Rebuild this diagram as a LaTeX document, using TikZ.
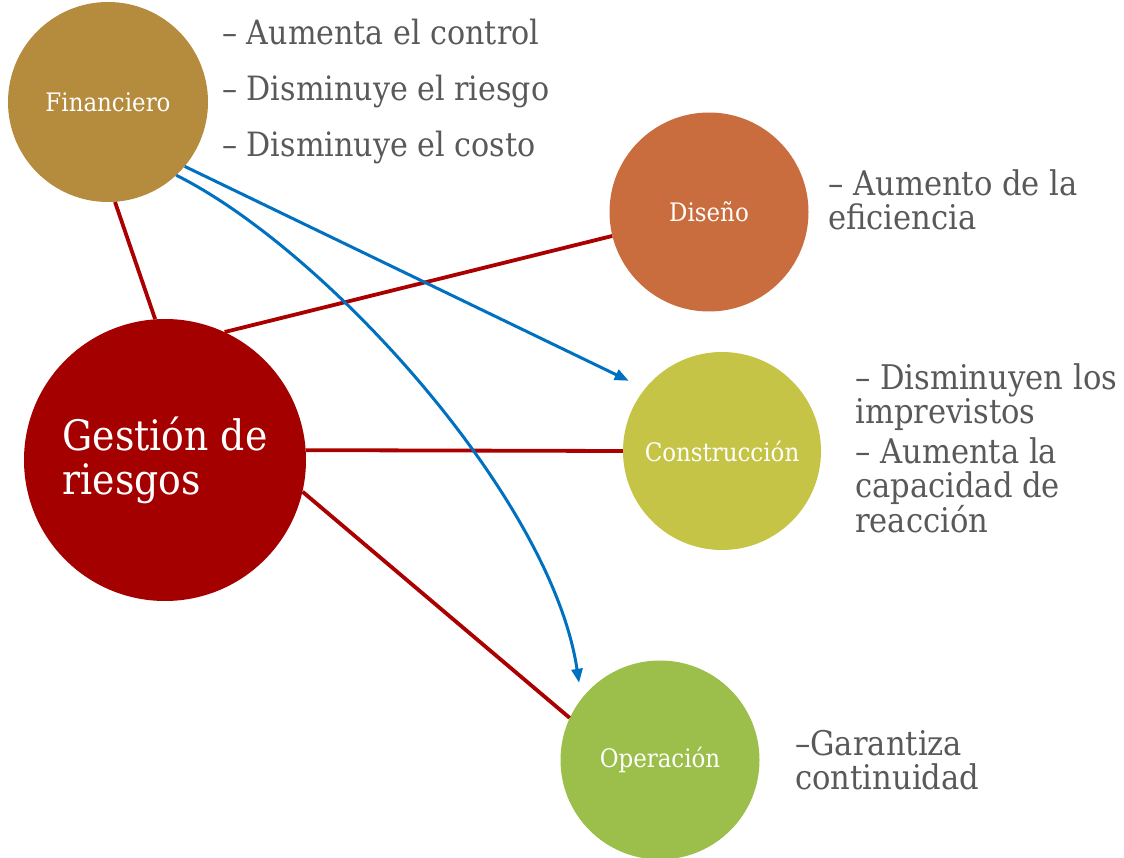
\documentclass[tikz,border=0pt]{standalone}
\usepackage{fontspec}
\setmainfont{DejaVu Serif Condensed}
\usepackage{tikz}
\usetikzlibrary{arrows.meta}
\definecolor{finColor}{HTML}{B58B3D}
\definecolor{disColor}{HTML}{C96D3E}
\definecolor{conColor}{HTML}{C5C447}
\definecolor{opeColor}{HTML}{9BBF4A}
\definecolor{gesColor}{HTML}{A50000}
\definecolor{linkRed}{HTML}{AA0000}
\definecolor{flowBlue}{HTML}{0070C0}
\definecolor{textGray}{HTML}{595959}
\tikzset{
  area/.style={circle, fill=#1, text=white, inner sep=0pt,
               minimum size=199pt, font=\fontsize{25.5}{28}\selectfont},
  link/.style={draw=linkRed, line width=3.8pt},
  flow/.style={-{Triangle[length=14pt,width=11pt]}, draw=flowBlue, line width=3pt},
  benefit/.style={anchor=west, text=textGray, align=left, inner sep=0pt,
                  font=\fontsize{34}{34.5}\selectfont},
}

\begin{document}
\begin{tikzpicture}[x=1pt, y=-1pt]
  \useasboundingbox (0,0) rectangle (1124,858);

  % circles
  \node[area=finColor, minimum size=200pt] (fin) at (108,102) {Financiero};
  \node[area=disColor] (dis) at (709,212) {Diseño};
  \node[area=conColor, minimum size=198pt] (con) at (722,451) {Construcción};
  \node[area=opeColor] (ope) at (660,760) {Operación};
  \node[area=gesColor, minimum size=282pt, align=left,
        font=\fontsize{42}{44}\selectfont] (ges) at (165,460) {Gestión de\\riesgos};

  % benefits
  \node[benefit, font=\fontsize{33.5}{56}\selectfont] (finTxt) at (222,91)
    {– Aumenta el control\\– Disminuye el riesgo\\– Disminuye el costo};
  \node[benefit] (disTxt) at (828,200) {– Aumento de la\\eficiencia};
  \node[benefit] (conTxt) at (855,448)
    {– Disminuyen los\\imprevistos\\[5pt]– Aumenta la\\capacidad de\\reacción};
  \node[benefit] (opeTxt) at (795,760) {–Garantiza\\continuidad};

  % links
  \draw[link] (fin.-86) -- (ges.94);
  \draw[link] (ges.65) -- (dis);
  \draw[link] (ges.4) -- (con.west);
  \draw[link] (ges.-13) -- (ope.155);

  % flows
  \draw[flow, shorten >=18pt] (fin.-40) -- (con.141);
  \draw[flow, shorten >=16pt] (fin.-47) .. controls +(150,75) and +(-30,-200) .. (ope.142);
\end{tikzpicture}
\end{document}
